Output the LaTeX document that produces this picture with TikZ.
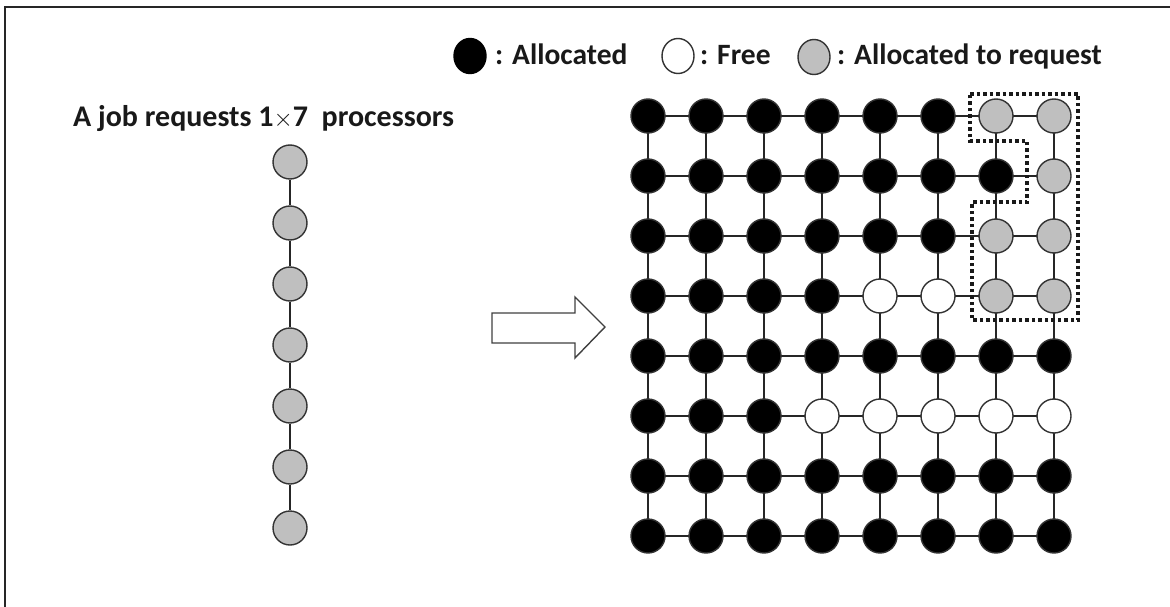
\documentclass[tikz,border=0pt]{standalone}
\usepackage{fontspec}
\setmainfont{Carlito}
\usetikzlibrary{shapes.geometric,backgrounds}
\colorlet{slotB}{black}
\colorlet{slotW}{white}
\definecolor{slotG}{HTML}{BFBFBF}
% one row of the mesh: row number, y position, list of states
\newcommand\meshrow[3]{%
  \foreach \st [count=\mj] in {#3}
    \node[proc,fill=slot\st] (m#1x\mj) at ({648+58*(\mj-1)},#2) {};%
}
\begin{document}
\begin{tikzpicture}[x=1pt,y=-1pt,
  proc/.style={circle,minimum size=34pt,inner sep=0pt,line width=1.4pt,draw=black!80},
  granted/.style={proc,fill=slotG},
  keyshape/.style={ellipse,minimum width=32pt,minimum height=35pt,inner sep=0pt,line width=1.4pt,draw=black!80},
  link/.style={line width=1.8pt,draw=black!85},
  caption/.style={font=\bfseries\fontsize{29.5}{34}\selectfont,text=black!90,inner sep=0pt,anchor=base west},
  region/.style={line width=3.5pt,dash pattern=on 3.5pt off 3pt,draw=black!90}
]
\useasboundingbox (0,0) rectangle (1170,607);

% outer frame (left and top edges)
\draw[line width=2pt,black!85] (5,607) -- (5,7) -- (1170,7);

% legend
\node[keyshape,fill=slotB,draw=black] (key-busy) at (470,56) {};
\node[caption] (key-busy-txt) at (495,65) {: Allocated};
\node[keyshape,fill=slotW] (key-idle) at (678,56) {};
\node[caption] (key-idle-txt) at (700,65) {: Free};
\node[keyshape,fill=slotG] (key-granted) at (814,57) {};
\node[caption] (key-granted-txt) at (837,65) {: Allocated to request};

% the requested job: a 1x7 chain
\node[caption,font=\bfseries\fontsize{30}{34}\selectfont] (job-title) at (73,127) {A job requests 1$\times$7\ \ processors};
\foreach \kk in {1,...,7}
  \node[granted] (j-\kk) at (290,{162+61*(\kk-1)}) {};
\foreach \kk [evaluate=\kk as \nn using int(\kk+1)] in {1,...,6}
  \draw[link] (j-\kk) -- (j-\nn);

% mapping arrow
\draw[line width=1.4pt,draw=black!75,fill=white]
  (492,313) -- (575,313) -- (575,297) -- (605,327) -- (575,358) -- (575,343) -- (492,343) -- cycle;

% 8x8 mesh: B allocated, W free, G allocated to the request
\meshrow{1}{116}{B,B,B,B,B,B,G,G}
\meshrow{2}{176}{B,B,B,B,B,B,B,G}
\meshrow{3}{236}{B,B,B,B,B,B,G,G}
\meshrow{4}{296}{B,B,B,B,W,W,G,G}
\meshrow{5}{356}{B,B,B,B,B,B,B,B}
\meshrow{6}{416}{B,B,B,W,W,W,W,W}
\meshrow{7}{476}{B,B,B,B,B,B,B,B}
\meshrow{8}{536}{B,B,B,B,B,B,B,B}

% mesh links, behind the processors
\begin{pgfonlayer}{background}
  \draw[link] (m1x1.center) -- (m1x8.center);
  \draw[link] (m2x1.center) -- (m2x8.center);
  \draw[link] (m3x1.center) -- (m3x8.center);
  \draw[link] (m4x1.center) -- (m4x8.center);
  \draw[link] (m5x1.center) -- (m5x8.center);
  \draw[link] (m6x1.center) -- (m6x8.center);
  \draw[link] (m7x1.center) -- (m7x8.center);
  \draw[link] (m8x1.center) -- (m8x8.center);
  \draw[link] (m1x1.center) -- (m8x1.center);
  \draw[link] (m1x2.center) -- (m8x2.center);
  \draw[link] (m1x3.center) -- (m8x3.center);
  \draw[link] (m1x4.center) -- (m8x4.center);
  \draw[link] (m1x5.center) -- (m8x5.center);
  \draw[link] (m1x6.center) -- (m8x6.center);
  \draw[link] (m1x7.center) -- (m8x7.center);
  \draw[link] (m1x8.center) -- (m8x8.center);
\end{pgfonlayer}

% outline of the allocated sub-mesh
\draw[region] (970,94) -- (1078,94) -- (1078,320) -- (972,320) -- (972,202)
  -- (1027,202) -- (1027,141) -- (970,141) -- cycle;
\end{tikzpicture}
\end{document}
